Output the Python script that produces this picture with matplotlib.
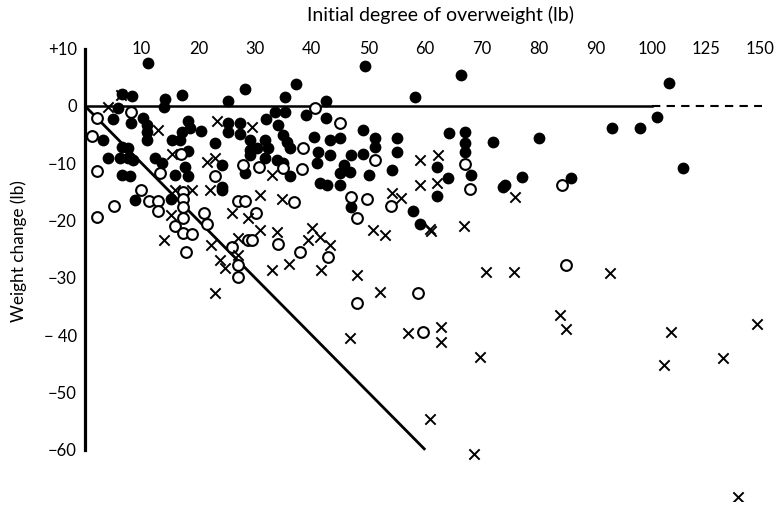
import numpy as np
import matplotlib
matplotlib.use("Agg")
import matplotlib.pyplot as plt

plt.rcParams['font.family'] = ['Lato', 'DejaVu Sans']

# ---- data (initial overweight lb, weight change lb) ----
filled_x = [11.1, 6.5, 8.3, 14.1, 17.1, 28.2, 25.2, 37.2, 35.3, 49.4, 42.5, 58.2, 66.3, 107.9,
            14, 5.9, 5, 10.3, 10.9, 10.9, 10.9, 8.1, 18.2, 17.1, 18.5, 20.5, 15.3, 16.8, 3.2, 25.3, 25.3,
            27.3, 27.3, 29.1, 29.1, 29.1, 22.9, 24.1, 18.2, 4.1, 6.2, 7.6, 6.5, 7.6, 8.5, 12.3, 13.5,
            6.5, 7.9, 15.9, 17.6, 18.2, 24.1, 28.2,
            33.5, 35.3, 39, 42.5, 32, 34.1, 35, 35.6, 36.2, 31.7, 32.3, 30.3, 40.3, 43.2, 45, 49.1,
            51.1, 51.1, 55, 55, 41.1, 40.9, 43.2, 47, 49.1, 45.6, 45, 46.7, 50, 54.1, 31.7, 33.8, 35,
            36.2, 41.4, 42.6, 45,
            64.2, 67, 67, 67, 72, 80, 62, 64.1, 68.1, 74, 77, 85.8, 92.9, 97.9, 102.1, 114.5,
            8.8, 15.2, 24.1, 47, 57.9, 59.1, 62, 73.8]
filled_y = [7.5, 2.1, 1.7, 1.2, 1.9, 3.0, 0.9, 3.8, 1.6, 6.9, 0.9, 1.6, 5.4, 4.1,
            -0.1, -0.4, -2.3, -2.1, -3.3, -4.5, -5.9, -3, -2.6, -4.5, -3.9, -4.4, -5.9, -5.9, -5.9, -3, -4.5,
            -3, -4.8, -5.9, -7.7, -8.6, -6.5, -10.3, -7.8, -9.1, -9.1, -9.1, -7.1, -7.4, -9.4, -9.1, -10,
            -12, -12.3, -12, -10.6, -12.3, -14.1, -11.7,
            -1, -1, -1.6, -2.1, -2.3, -3.3, -5.1, -6.2, -7.4, -5.9, -7.4, -7.4, -5.4, -5.9, -5.6, -4.2,
            -5.6, -7.1, -5.5, -8, -8, -10, -8.6, -8.6, -8.3, -10.3, -11.7, -11.5, -12, -11.2, -9.1, -9.4, -10,
            -12.3, -13.5, -13.8, -13.8,
            -4.7, -4.5, -6.5, -8, -6.2, -5.6, -10.6, -12.6, -12, -13.8, -12.4, -12.6, -3.8, -3.9, -1.9, -10.9,
            -16.4, -16.2, -14.7, -17.6, -18.4, -20.6, -15.7, -14.1]

open_x = [8.2, 2.1, 1.2, 16.9, 2.1, 13.2, 22.9, 27.9, 40.6, 45, 38.4, 51.1, 30.6, 35, 38.2, 67.1, 84.1, 67.9,
          2.1, 5.2, 9.9, 11.2, 12.9, 12.9, 17.2, 17.2, 17.2, 17.2, 15.9, 17.3, 18.9, 17.9, 21, 21.6, 27, 28.3,
          28.8, 25.9, 27, 26.9,
          36.9, 30.2, 29.4, 34.1, 37.9, 42.9, 47, 49.8, 48, 53.9, 58.8, 47.9, 84.8, 59.7]
open_y = [-1.1, -2.1, -5.2, -8.3, -11.3, -11.7, -12.3, -10.3, -0.4, -3, -7.4, -9.4, -10.6, -10.9, -11, -10.1, -13.8, -14.4,
          -19.4, -17.5, -14.7, -16.6, -16.6, -18.3, -15, -16.2, -17.6, -19.6, -21, -22.2, -22.4, -25.4, -18.6, -20.6, -16.6, -16.6,
          -23.4, -24.6, -27.7, -29.8,
          -16.8, -18.7, -23.4, -24.1, -25.4, -26.3, -15.8, -16.2, -19.6, -17.4, -32.7, -34.4, -27.7, -39.4]

cross_x = [6.3, 4, 12.9, 23.2, 29.4, 15.3, 21.5, 22.9, 32.9, 59.1, 59.1, 62.2, 62,
           15.2, 15.9, 18.8, 22, 14, 25.9, 28.8, 27, 22.3, 27, 23.8, 24.7, 22.9,
           30.9, 34.7, 30.9, 33.9, 40, 41.4, 39.4, 43.2, 36, 32.9, 41.7, 50.8, 52.9, 54.1, 55.8, 60.8, 47.9, 52,
           75.8, 61, 66.9, 70.8, 75.7, 83.8, 92.6,
           46.7, 57, 62.7, 62.7, 69.7, 60.8, 68.6, 84.8, 108.9, 105.7, 132.8, 148.6, 139.8]
cross_y = [2.0, -0.1, -4.2, -2.7, -3.6, -8.3, -9.7, -9, -12, -9.4, -13.8, -8.6, -13.5,
           -19, -14.7, -14.7, -14.7, -23.4, -18.7, -19.6, -23.1, -24.3, -26, -26.9, -28.3, -32.7,
           -15.5, -16.2, -21.6, -22, -21.3, -22.8, -23.4, -24.3, -27.5, -28.6, -28.6, -21.6, -22.5, -15.2, -16.1, -21.4, -29.5, -32.5,
           -15.8, -21.8, -20.9, -29, -29, -36.5, -29.2,
           -40.5, -39.7, -38.5, -41.2, -43.8, -54.7, -60.7, -39, -39.4, -45.2, -43.9, -38, -68.2]

x_ticks = [10, 20, 30, 40, 50, 60, 70, 80, 90, 100, 125, 150]
y_ticks = [10, 0, -10, -20, -30, -40, -50, -60]
y_labels = ['+10', '0', '\u221210', '\u221220', '\u221230', '\u2212 40', '\u221250', '\u221260']

K = 0.38
def fwd(x):
    x = np.asarray(x, dtype=float)
    return np.where(x <= 100, x, 100 + (x - 100) * K)
def inv(u):
    u = np.asarray(u, dtype=float)
    return np.where(u <= 100, u, 100 + (u - 100) / K)

W, H = 778, 505
fig = plt.figure(figsize=(W / 100, H / 100), dpi=100)
xpx = 5.67
ypx = 5.73
x0px, y0px = 85, 106
xmax = 155
ymin, ymax = -69, 10
left = x0px / W
width = xpx * float(fwd(xmax)) / W
top_px = y0px - ymax * ypx
height = (ymax - ymin) * ypx / H
bottom = 1 - (top_px / H) - height
ax = fig.add_axes([left, bottom, width, height])
ax.set_xscale('function', functions=(fwd, inv))
ax.set_xlim(0, xmax)
ax.set_ylim(ymin, ymax)

for s in ['top', 'right', 'bottom']:
    ax.spines[s].set_visible(False)
ax.spines['left'].set_bounds(-60, 10)
ax.spines['left'].set_linewidth(2.3)

ax.xaxis.tick_top()
ax.set_xticks(x_ticks)
ax.set_xticklabels([str(t) for t in x_ticks], fontsize=12)
ax.tick_params(axis='x', length=0, pad=-6)
ax.minorticks_off()
ax.set_yticks(y_ticks)
ax.set_yticklabels(y_labels, fontsize=12)
ax.tick_params(axis='y', length=0, pad=6)

ax.plot([0, 60], [0, -60], color='black', lw=2.0, solid_capstyle='butt')
ax.plot([0, 100], [0, 0], color='black', lw=1.8)
ax.plot([100, 151], [0, 0], color='black', lw=1.5, ls=(0, (4, 3)))

ax.scatter(filled_x, filled_y, s=72, c='black', marker='o', zorder=3, linewidths=0)
ax.scatter(open_x, open_y, s=60, facecolors='white', edgecolors='black', marker='o', linewidths=1.5, zorder=3)
ax.scatter(cross_x, cross_y, s=55, c='black', marker='x', linewidths=1.4, zorder=3)

fig.text(440 / W, 1 - 15 / H, 'Initial degree of overweight (lb)', ha='center', va='center', fontsize=14)
fig.text(19 / W, 1 - 251 / H, 'Weight change (lb)', ha='center', va='center', rotation=90, fontsize=12.4)

fig.savefig('out.png', dpi=100)
